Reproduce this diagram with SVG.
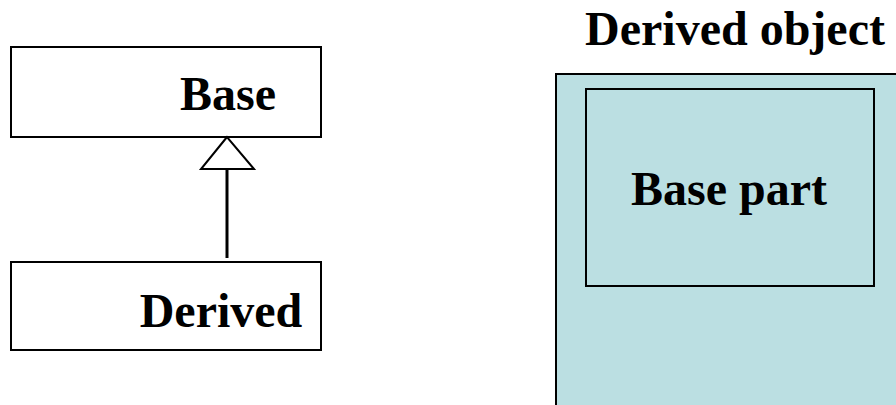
<svg xmlns="http://www.w3.org/2000/svg" width="896" height="405" viewBox="0 0 896 405">
<style>
.box{fill:#ffffff;stroke:#000;stroke-width:2}
.obj{fill:#bbdfe2;stroke:#000;stroke-width:2}
.t{font-family:"Liberation Serif","Times New Roman",serif;font-weight:bold;font-size:48px;fill:#000;text-anchor:middle}
</style>
<rect width="896" height="405" fill="#ffffff"/>
<g id="base">
<rect class="box" x="11" y="47" width="310" height="90"/>
<text class="t" x="228" y="110">Base</text>
</g>
<g id="derived">
<rect class="box" x="11" y="262" width="310" height="88"/>
<text class="t" x="221" y="327">Derived</text>
</g>
<g id="connectors">
<line x1="227" y1="169" x2="227" y2="258" stroke="#000" stroke-width="3"/>
<polygon points="227,137 201,169 254,169" fill="#fff" stroke="#000" stroke-width="2"/>
</g>
<g id="derived-object">
<text class="t" x="735" y="45">Derived object</text>
<rect class="obj" x="556" y="74" width="360" height="360"/>
</g>
<g id="base-part">
<rect class="obj" x="586" y="89" width="288" height="197"/>
<text class="t" x="729" y="205">Base part</text>
</g>
</svg>
